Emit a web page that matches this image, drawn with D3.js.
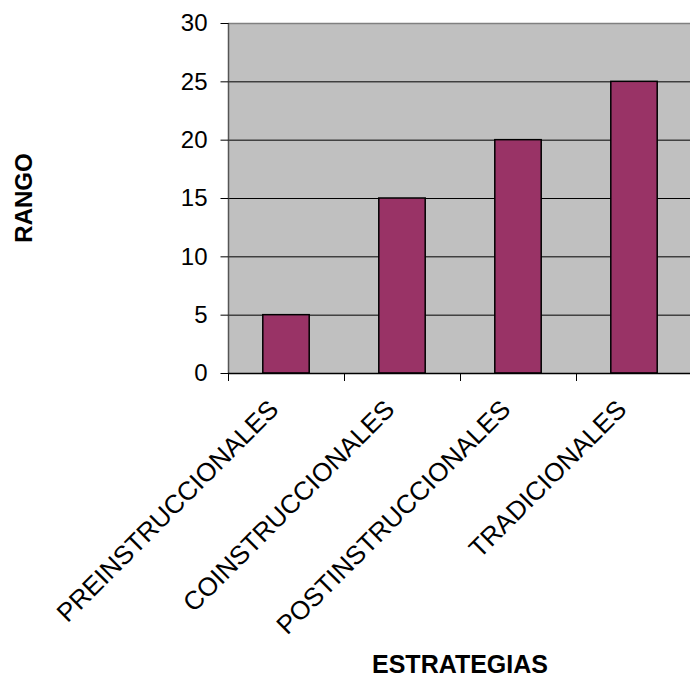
<!DOCTYPE html>
<html>
<head>
<meta charset="utf-8">
<script src="https://cdn.jsdelivr.net/npm/d3@7"></script>
<style>
  html, body { margin: 0; padding: 0; background: #fff; }
  svg { display: block; font-family: Arial, "Liberation Sans", sans-serif; }
</style>
</head>
<body>
<svg id="chart" width="690" height="677"></svg>
<script>
// Strategy categories and their rank values
const categories = ["PREINSTRUCCIONALES", "COINSTRUCCIONALES", "POSTINSTRUCCIONALES", "TRADICIONALES"];
const values = [5, 15, 20, 25];
const yTicks = [0, 5, 10, 15, 20, 25, 30];

const svg = d3.select("#chart");
const plot = { left: 228, top: 23, right: 692, bottom: 373 };

const x = d3.scaleBand()
  .domain(categories)
  .range([plot.left, plot.right])
  .paddingInner(0.6)
  .paddingOuter(0.3);

const y = d3.scaleLinear().domain([0, 30]).range([plot.bottom, plot.top]);

// Plot background
svg.append("rect")
  .attr("x", plot.left).attr("y", plot.top)
  .attr("width", plot.right - plot.left).attr("height", plot.bottom - plot.top)
  .attr("fill", "#c0c0c0");

// Horizontal gridlines
svg.append("g").selectAll("line")
  .data(yTicks.filter(d => d > 0 && d < 30))
  .join("line")
  .attr("x1", plot.left).attr("x2", plot.right)
  .attr("y1", d => y(d) + 0.5).attr("y2", d => y(d) + 0.5)
  .attr("stroke", "#000").attr("stroke-width", 1);

// Top border
svg.append("line")
  .attr("x1", plot.left).attr("x2", plot.right)
  .attr("y1", plot.top + 0.5).attr("y2", plot.top + 0.5)
  .attr("stroke", "#808080").attr("stroke-width", 1.5);

// Bars
svg.append("g").selectAll("rect")
  .data(values)
  .join("rect")
  .attr("x", (d, i) => x(categories[i]))
  .attr("y", d => y(d))
  .attr("width", x.bandwidth())
  .attr("height", d => y(0) - y(d))
  .attr("fill", "#993366")
  .attr("stroke", "#000")
  .attr("stroke-width", 1.5);

// Y axis
const yAxis = d3.axisLeft(y).tickValues(yTicks).tickSize(8).tickPadding(13);
const gy = svg.append("g")
  .attr("transform", `translate(${plot.left + 0.5},0)`)
  .call(yAxis);
gy.select(".domain").attr("stroke", "#555").attr("stroke-width", 1.5).attr("d", `M0,${plot.top}V${plot.bottom}`);
gy.selectAll(".tick line").attr("stroke", "#000");
gy.selectAll(".tick text").attr("font-size", 24).attr("fill", "#000");

// X axis: ticks at band boundaries
const bounds = categories.map((c, i) => plot.left + i * (plot.right - plot.left) / categories.length);
svg.append("line")
  .attr("x1", plot.left).attr("x2", plot.right)
  .attr("y1", plot.bottom + 0.5).attr("y2", plot.bottom + 0.5)
  .attr("stroke", "#000").attr("stroke-width", 1.5);
svg.append("g").selectAll("line")
  .data(bounds)
  .join("line")
  .attr("x1", d => d + 0.5).attr("x2", d => d + 0.5)
  .attr("y1", plot.bottom).attr("y2", plot.bottom + 8)
  .attr("stroke", "#000");

// Category labels rotated 45 degrees
svg.append("g").selectAll("text")
  .data(categories)
  .join("text")
  .attr("transform", d => `translate(${x(d) + x.bandwidth() / 2 - 6},${plot.bottom + 38}) rotate(-45)`)
  .attr("text-anchor", "end")
  .attr("font-size", 26)
  .attr("fill", "#000")
  .text(d => d);

// Axis titles
svg.append("text")
  .attr("x", (plot.left + plot.right) / 2)
  .attr("y", 673)
  .attr("text-anchor", "middle")
  .attr("font-size", 25)
  .attr("font-weight", "bold")
  .text("ESTRATEGIAS");

svg.append("text")
  .attr("transform", `translate(32,${(plot.top + plot.bottom) / 2}) rotate(-90)`)
  .attr("text-anchor", "middle")
  .attr("font-size", 24)
  .attr("font-weight", "bold")
  .text("RANGO");
</script>
</body>
</html>
